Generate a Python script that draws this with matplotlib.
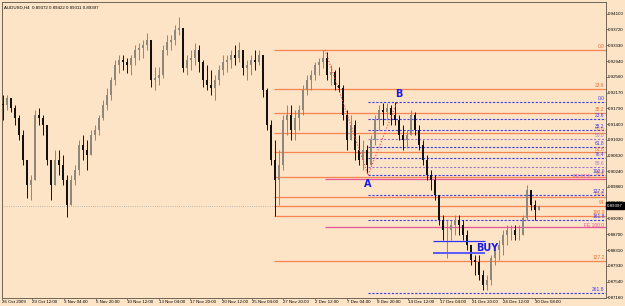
import matplotlib
matplotlib.use("Agg")
import matplotlib.pyplot as plt
import matplotlib.transforms as mtransforms

# AUDUSD H4 - prices
highs = [0.9211, 0.9211, 0.9204, 0.9187, 0.9162, 0.9126, 0.9052, 0.9015, 0.9175, 0.9179,
         0.9162, 0.9126, 0.9052, 0.9077, 0.9077, 0.9064, 0.9015, 0.9015, 0.9040, 0.9101,
         0.9113, 0.9101, 0.9126, 0.9138, 0.9162, 0.9199, 0.9229, 0.9256, 0.9297, 0.9309,
         0.9309, 0.9302, 0.9309, 0.9334, 0.9339, 0.9346, 0.9363, 0.9346, 0.9280, 0.9280,
         0.9334, 0.9358, 0.9358, 0.9383, 0.9403, 0.9371, 0.9309, 0.9322, 0.9339, 0.9334,
         0.9297, 0.9285, 0.9273, 0.9260, 0.9285, 0.9309, 0.9309, 0.9322, 0.9334, 0.9341,
         0.9322, 0.9297, 0.9309, 0.9322, 0.9322, 0.9309, 0.9229, 0.9150, 0.9101, 0.9077,
         0.9162, 0.9187, 0.9187, 0.9175, 0.9187, 0.9236, 0.9260, 0.9273, 0.9292, 0.9302,
         0.9322, 0.9317, 0.9285, 0.9273, 0.9280, 0.9236, 0.9175, 0.9162, 0.9150, 0.9113,
         0.9101, 0.9089, 0.9113, 0.9162, 0.9187, 0.9192, 0.9192, 0.9187, 0.9194, 0.9162,
         0.9138, 0.9126, 0.9175, 0.9170, 0.9138, 0.9101, 0.9064, 0.9027, 0.9015, 0.8966,
         0.8917, 0.8905, 0.8905, 0.8917, 0.8917, 0.8905, 0.8880, 0.8844, 0.8819, 0.8819,
         0.8782, 0.8770, 0.8819, 0.8844, 0.8856, 0.8880, 0.8893, 0.8893, 0.8893, 0.8893,
         0.8917, 0.8991, 0.8978, 0.8954, 0.89422]
lows = [0.9150, 0.9175, 0.9170, 0.9138, 0.9101, 0.9040, 0.8959, 0.8954, 0.9003, 0.9138,
        0.9113, 0.9040, 0.8954, 0.8991, 0.9015, 0.8991, 0.8912, 0.8942, 0.8991, 0.9015,
        0.9052, 0.9027, 0.9077, 0.9101, 0.9113, 0.9150, 0.9175, 0.9199, 0.9236, 0.9265,
        0.9273, 0.9265, 0.9260, 0.9285, 0.9297, 0.9302, 0.9322, 0.9231, 0.9224, 0.9236,
        0.9253, 0.9309, 0.9322, 0.9334, 0.9358, 0.9268, 0.9260, 0.9273, 0.9285, 0.9268,
        0.9231, 0.9224, 0.9211, 0.9199, 0.9236, 0.9260, 0.9268, 0.9278, 0.9285, 0.9292,
        0.9260, 0.9248, 0.9260, 0.9273, 0.9285, 0.9206, 0.9126, 0.9040, 0.8915, 0.8942,
        0.9027, 0.9113, 0.9101, 0.9101, 0.9126, 0.9162, 0.9211, 0.9224, 0.9248, 0.9260,
        0.9278, 0.9248, 0.9236, 0.9224, 0.9219, 0.9150, 0.9077, 0.9101, 0.9052, 0.9040,
        0.9027, 0.9020, 0.9052, 0.9089, 0.9126, 0.9138, 0.9150, 0.9138, 0.9138, 0.9101,
        0.9077, 0.9081, 0.9126, 0.9113, 0.9077, 0.9040, 0.9003, 0.8978, 0.8954, 0.8893,
        0.8856, 0.8812, 0.8856, 0.8868, 0.8868, 0.8856, 0.8831, 0.8795, 0.8770, 0.8758,
        0.8733, 0.8733, 0.8746, 0.8795, 0.8807, 0.8819, 0.8844, 0.8856, 0.8856, 0.8856,
        0.8868, 0.8905, 0.8929, 0.8905, 0.89311]
closes = [0.9187, 0.9204, 0.9179, 0.9155, 0.9113, 0.9052, 0.8991, 0.9003, 0.9162, 0.9155,
          0.9138, 0.9052, 0.8991, 0.9052, 0.9040, 0.9003, 0.8942, 0.9003, 0.9027, 0.9089,
          0.9077, 0.9064, 0.9113, 0.9126, 0.9155, 0.9187, 0.9211, 0.9248, 0.9285, 0.9297,
          0.9292, 0.9285, 0.9302, 0.9322, 0.9327, 0.9334, 0.9346, 0.9248, 0.9253, 0.9260,
          0.9322, 0.9341, 0.9346, 0.9371, 0.9376, 0.9278, 0.9297, 0.9302, 0.9322, 0.9292,
          0.9248, 0.9236, 0.9229, 0.9248, 0.9273, 0.9292, 0.9297, 0.9309, 0.9302, 0.9322,
          0.9278, 0.9285, 0.9297, 0.9292, 0.9309, 0.9224, 0.9138, 0.9052, 0.9003, 0.9040,
          0.9150, 0.9162, 0.9126, 0.9155, 0.9175, 0.9224, 0.9248, 0.9260, 0.9285, 0.9292,
          0.9302, 0.9260, 0.9268, 0.9236, 0.9229, 0.9162, 0.9101, 0.9138, 0.9077, 0.9052,
          0.9077, 0.9040, 0.9101, 0.9150, 0.9175, 0.9170, 0.9179, 0.9162, 0.9150, 0.9113,
          0.9101, 0.9113, 0.9162, 0.9126, 0.9089, 0.9052, 0.9015, 0.9003, 0.8966, 0.8905,
          0.8880, 0.8880, 0.8893, 0.8905, 0.8893, 0.8868, 0.8844, 0.8807, 0.8802, 0.8770,
          0.8746, 0.8758, 0.8812, 0.8831, 0.8844, 0.8868, 0.8880, 0.8880, 0.8868, 0.8868,
          0.8910, 0.8978, 0.8942, 0.8929, 0.89397]
first_open = 0.9190

price_ticks = [0.94100, 0.93720, 0.93330, 0.92940, 0.92560, 0.92170, 0.91790, 0.91400,
               0.91020, 0.90630, 0.90240, 0.89860, 0.89470, 0.89090, 0.88700, 0.88310,
               0.87930, 0.87540, 0.87160]
time_labels = ["26 Oct 2009", "29 Oct 12:00", "3 Nov 04:00", "5 Nov 20:00", "10 Nov 12:00",
               "13 Nov 04:00", "17 Nov 20:00", "20 Nov 12:00", "25 Nov 04:00", "27 Nov 20:00",
               "2 Dec 12:00", "7 Dec 04:00", "9 Dec 20:00", "14 Dec 12:00", "17 Dec 04:00",
               "21 Dec 20:00", "24 Dec 12:00", "30 Dec 08:00"]
time_pos = [-0.25, 7.25, 15.25, 23.25, 31, 39, 46.75, 54.75, 62.25, 70,
            78, 86, 93.5, 101.25, 109.25, 117.25, 125, 133]

# fibonacci objects
fib_low, fib_high = 0.8915, 0.9322          # orange retracement
fib_levels = [0, 0.236, 0.382, 0.5, 0.618, 0.764, 0.886, 0.94, 1.0, 1.272]
fib_names = ["0.0", "23.6", "38.2", "50.0", "61.8", "76.4", "88.6", "94", "100.0", "127.2"]
ab_high, ab_low = 0.9194, 0.9015            # blue retracement B -> A
ab_levels = [0, 0.236, 0.382, 0.5, 0.618, 0.764, 0.886, 1.0, 1.272, 1.618, 2.618]
ab_names = ["0.0", "23.6", "38.2", "50.0", "61.8", "76.4", "88.6", "100.0", "127.2", "161.8", "261.8"]
fe_points = [0.9322, 0.9015, 0.9194]        # expansion anchors
fe_levels = [0.618, 1.0]
fe_names = ["FE 61.8", "FE 100.0"]
buy_levels = [0.8853, 0.8824]
last_price = 0.89397

BG = "#fde4c6"
FS = 3.2
SMALL = ["Liberation Sans", "DejaVu Sans"]

fig = plt.figure(figsize=(6.25, 3.06), dpi=100, facecolor=BG)
ax = fig.add_axes([2 / 625, 8 / 306, 604 / 625, 296 / 306], facecolor=BG)
ax.set_xlim(-0.25, 150.75)
ax.set_ylim(0.87136, 0.94394)

# candles
opens = [first_open] + closes[:-1]
for i in range(len(closes)):
    o, c = opens[i], closes[i]
    hi = max(highs[i], o, c)
    lo = min(lows[i], o, c)
    col = "#8e887c" if c >= o else "#111111"
    ax.vlines(i, lo, hi, color=col, lw=0.7, zorder=3)
    ax.bar(i, max(abs(c - o), 0.00008), bottom=min(o, c), width=0.5, color=col,
           lw=0, zorder=3)

right = 150.4
# orange retracement
for r, name in zip(fib_levels, fib_names):
    p = fib_high - r * (fib_high - fib_low)
    ax.hlines(p, 67.75, 151, color="#f7834f", lw=0.9, zorder=2)
    ax.text(right, p + 0.0002, name, color="#f06a30", fontsize=FS + 0.3, family=SMALL,
            ha="right", va="bottom", zorder=4)

# blue retracement
for r, name in zip(ab_levels, ab_names):
    p = ab_high - r * (ab_high - ab_low)
    col = "#9a78d0" if name in ("50.0", "88.6") else "#3a3af0"
    ax.hlines(p, 91.25, 151, color=col, lw=0.8, linestyles=(0, (2, 1.5)), zorder=2)
    ax.text(right, p + 0.0002, name, color=col, fontsize=FS + 0.3, family=SMALL,
            ha="right", va="bottom", zorder=4)

# expansion
rng = fe_points[0] - fe_points[1]
for r, name in zip(fe_levels, fe_names):
    p = fe_points[2] - r * rng
    ax.hlines(p, 80.5, 151, color="#e2559b", lw=0.9, zorder=2)
    ax.text(right - 3.5 if r < 1 else right - 0.2, p + 0.0002 if r < 1 else p - 0.0001, name,
            color="#e2559b", fontsize=FS + 0.3, family=SMALL, ha="right", va="bottom", zorder=4)
ax.plot([80.5, 91.25, 98.5], fe_points, color="#ff3b3b", lw=0.8, ls=":", zorder=4)

# BUY zone
for k, p in enumerate(buy_levels):
    ax.hlines(p, 107.5, 120.5, color="#2f2fff" if k == 0 else "#5a5aff",
              lw=0.9 if k == 0 else 1.4, zorder=5)
ax.text(121, 0.8836, "BUY", color="#1c1ce0", fontsize=7, fontweight="bold",
        ha="center", va="center", zorder=6)
ax.text(91.25, 0.8993, "A", color="#1c1ce0", fontsize=7, fontweight="bold",
        ha="center", va="center", zorder=6)
ax.text(99, 0.9214, "B", color="#1c1ce0", fontsize=7, fontweight="bold",
        ha="center", va="center", zorder=6)

# bid line and price box
ax.axhline(last_price, color="#a8a8a8", lw=0.6, ls=":", zorder=1)
trans = mtransforms.blended_transform_factory(ax.transAxes, ax.transData)
ax.text(1.002, last_price, "0.89397", transform=trans, fontsize=FS, family=SMALL,
        color="white", ha="left", va="center", clip_on=False, zorder=10,
        bbox=dict(boxstyle="square,pad=0.3", fc="black", ec="black"))

# axes styling
ax.yaxis.tick_right()
ax.set_yticks(price_ticks)
ax.set_yticklabels([f"{v:.5f}" for v in price_ticks], family=SMALL)
ax.set_xticks(time_pos)
ax.set_xticklabels(time_labels, ha="left", family=SMALL)
ax.tick_params(axis="both", labelsize=FS, length=1.2, width=0.5, color="#555555", pad=0.4)
for s in ax.spines.values():
    s.set_color("#6e6456")
    s.set_linewidth(0.7)

fig.text(4 / 625, 1 - 8 / 306, "AUDUSD,H4  0.89372 0.89422 0.89311 0.89397",
         fontsize=FS, family=SMALL, color="black", va="center")

fig.savefig("out.png", dpi=100, facecolor=BG)
